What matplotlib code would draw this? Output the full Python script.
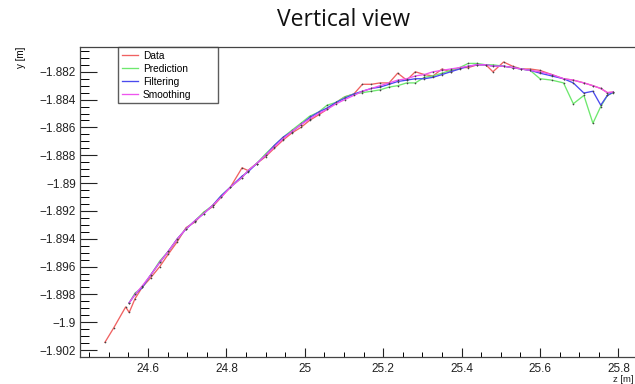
import matplotlib
matplotlib.use("Agg")
import matplotlib.pyplot as plt
from matplotlib.ticker import MultipleLocator, FuncFormatter

# track points along z [m]
z = [24.490, 24.512, 24.543, 24.552, 24.567, 24.585, 24.607, 24.630, 24.652, 24.675,
     24.697, 24.720, 24.742, 24.765, 24.787, 24.810, 24.840, 24.855, 24.877, 24.900,
     24.922, 24.945, 24.967, 24.990, 25.012, 25.035, 25.057, 25.080, 25.102, 25.125,
     25.147, 25.170, 25.192, 25.215, 25.237, 25.260, 25.282, 25.305, 25.327, 25.350,
     25.372, 25.395, 25.417, 25.440, 25.462, 25.480, 25.507, 25.530, 25.552, 25.575,
     25.600, 25.630, 25.660, 25.685, 25.712, 25.735, 25.755, 25.772, 25.787]

# measured hits
y_data = [-1.90145, -1.90043, -1.89890, -1.89930, -1.89830, -1.89750, -1.89680, -1.89600, -1.89510, -1.89420,
          -1.89320, -1.89280, -1.89210, -1.89170, -1.89100, -1.89030, -1.88890, -1.88910, -1.88860, -1.88810,
          -1.88750, -1.88690, -1.88640, -1.88600, -1.88550, -1.88510, -1.88470, -1.88420, -1.88380, -1.88360,
          -1.88290, -1.88290, -1.88280, -1.88280, -1.88210, -1.88260, -1.88200, -1.88220, -1.88230, -1.88180,
          -1.88200, -1.88170, -1.88170, -1.88150, -1.88150, -1.88200, -1.88130, -1.88160, -1.88180, -1.88180,
          -1.88190, -1.88220, -1.88250, -1.88260, -1.88280, -1.88300, -1.88320, -1.88350, -1.88346]

# kalman filter starts after the seed hits
n_seed = 3

y_pred = [-1.89860, -1.89790, -1.89750, -1.89660, -1.89560, -1.89490, -1.89400, -1.89330, -1.89270, -1.89210,
          -1.89160, -1.89090, -1.89030, -1.88960, -1.88910, -1.88860, -1.88790, -1.88730, -1.88670, -1.88620,
          -1.88570, -1.88520, -1.88490, -1.88440, -1.88420, -1.88380, -1.88360, -1.88350, -1.88340, -1.88330,
          -1.88310, -1.88300, -1.88280, -1.88280, -1.88240, -1.88230, -1.88210, -1.88190, -1.88170, -1.88140,
          -1.88140, -1.88150, -1.88150, -1.88160, -1.88170, -1.88180, -1.88190, -1.88250, -1.88260, -1.88280,
          -1.88430, -1.88370, -1.88570, -1.88450, -1.88370, -1.88350]

y_filt = [-1.8986, -1.8980, -1.8975, -1.8966, -1.8957, -1.8949, -1.8940, -1.8933, -1.8927, -1.8922,
          -1.8916, -1.8909, -1.8903, -1.8895, -1.8892, -1.8886, -1.8880, -1.8873, -1.8867, -1.8863,
          -1.8858, -1.8853, -1.8849, -1.8846, -1.8842, -1.8839, -1.8836, -1.8834, -1.8832, -1.8831,
          -1.8829, -1.8827, -1.8826, -1.8825, -1.8825, -1.8824, -1.8822, -1.8820, -1.8818, -1.8816,
          -1.8815, -1.8815, -1.8816, -1.8816, -1.8817, -1.8818, -1.8819, -1.8821, -1.8823, -1.8825,
          -1.8828, -1.88353, -1.8834, -1.8844, -1.8837, -1.88346]

y_smooth = [-1.8986, -1.8980, -1.8974, -1.8966, -1.8957, -1.8949, -1.8940, -1.8933, -1.8927, -1.8922,
            -1.8916, -1.8910, -1.8903, -1.8896, -1.8891, -1.8886, -1.8880, -1.8874, -1.8868, -1.8863,
            -1.8858, -1.8854, -1.8850, -1.8847, -1.8843, -1.8840, -1.8837, -1.8834, -1.8832, -1.8830,
            -1.8828, -1.8826, -1.8825, -1.8823, -1.8822, -1.8820, -1.8819, -1.8818, -1.8817, -1.8816,
            -1.8815, -1.8815, -1.8816, -1.8816, -1.8817, -1.8818, -1.8819, -1.8820, -1.8822, -1.8825,
            -1.8826, -1.8828, -1.8830, -1.8832, -1.8835, -1.88346]


def vertical_view():
    plt.rcParams['font.family'] = ['Liberation Sans', 'DejaVu Sans']

    fig = plt.figure(figsize=(6.35, 3.84), dpi=100)
    # frame runs past the right border of the canvas
    ax = fig.add_axes([0.126, 0.0703, 0.8898, 0.8073])

    z_fit = z[n_seed:]
    series = [
        (z, y_data, '#f06262', 'Data'),
        (z_fit, y_pred, '#6ee86e', 'Prediction'),
        (z_fit, y_filt, '#4a4aee', 'Filtering'),
        (z_fit, y_smooth, '#ee55ee', 'Smoothing'),
    ]
    for xs, ys, col, lab in series:
        ax.plot(xs, ys, color=col, lw=0.95, label=lab,
                marker='o', ms=1.2, mfc='#444444', mec='none')

    ax.set_xlim(24.4265, 25.868)
    ax.set_ylim(-1.9025, -1.88022)

    ax.xaxis.set_major_locator(MultipleLocator(0.2))
    ax.xaxis.set_minor_locator(MultipleLocator(0.05))
    ax.yaxis.set_major_locator(MultipleLocator(0.002))
    ax.yaxis.set_minor_locator(MultipleLocator(0.0005))
    ax.yaxis.set_major_formatter(FuncFormatter(lambda v, p: ('%g' % round(v, 4)).replace('-', '\u2212')))
    ax.xaxis.set_major_formatter(FuncFormatter(lambda v, p: '%g' % round(v, 3)))

    ax.tick_params(axis='y', which='major', direction='in', length=12, width=0.8,
                   labelsize=8.5, pad=3, colors='#222222')
    ax.tick_params(axis='y', which='minor', direction='in', length=6.5, width=0.7)
    ax.tick_params(axis='x', which='major', direction='in', length=6.5, width=0.8,
                   labelsize=8.5, pad=4, colors='#222222')
    ax.tick_params(axis='x', which='minor', direction='in', length=3.3, width=0.7)

    for s in ax.spines.values():
        s.set_color('#444444')
        s.set_linewidth(0.9)

    # axis titles in the ROOT way: y at the top, z at the right end
    ax.set_ylabel('y [m]', fontsize=7, loc='top', labelpad=10)
    fig.text(0.998, 0.0, 'z [m]', fontsize=6.8, ha='right', va='bottom', color='#222222')

    leg = ax.legend(loc='upper left', bbox_to_anchor=(0.0673, 0.819, 0.177, 0.181),
                    mode='expand', fontsize=7.3, frameon=True, fancybox=False,
                    borderpad=0.35, labelspacing=0.3, handlelength=1.6,
                    handletextpad=0.5, borderaxespad=0.0)
    leg.get_frame().set_edgecolor('#333333')
    leg.get_frame().set_linewidth(1.0)
    for h in leg.get_lines():
        h.set_marker('')

    fig.text(0.5417, 0.948, 'Vertical view', fontsize=16.5, family='Open Sans',
             ha='center', va='center', color='#111111')

    fig.savefig('out.png', dpi=100)


if __name__ == "__main__":
    vertical_view()
